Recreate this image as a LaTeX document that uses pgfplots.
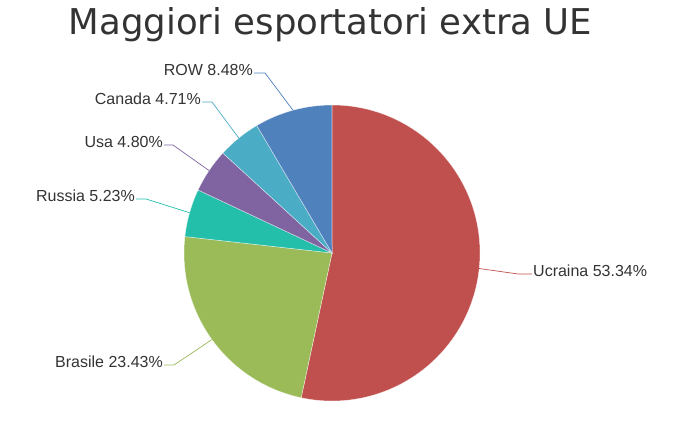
\documentclass[border=0pt]{standalone}
\usepackage{pgfplots}
\pgfplotsset{compat=1.18}
\usepackage{pgfplotstable}
\usepackage{fontspec}
\setmainfont{Liberation Sans}
\newfontfamily\titlefont{DejaVu Sans}
\definecolor{cUcr}{HTML}{C0504D}
\definecolor{cBra}{HTML}{9BBB59}
\definecolor{cRus}{HTML}{23BFAA}
\definecolor{cUsa}{HTML}{8064A2}
\definecolor{cCan}{HTML}{4BACC6}
\definecolor{cROW}{HTML}{4F81BD}
\definecolor{txt}{HTML}{333333}
\pgfplotstableread{
name pct col ex ey hx
Ucraina 53.34 cUcr 518 274 532
Brasile 23.43 cBra 174 365 164
Russia 5.23 cRus 146 199 136
Usa 4.80 cUsa 173 145 164
Canada 4.71 cCan 212 102 202
ROW 8.48 cROW 265 73 254
}\piedata
\begin{document}
\begin{tikzpicture}
\begin{axis}[hide axis, scale only axis, width=692bp, height=434bp,
  xmin=0, xmax=692, ymin=0, ymax=434, y dir=reverse, clip=false]
\gdef\cum{0}
\pgfplotsforeachungrouped \i in {0,...,5}{%
  \pgfplotstablegetelem{\i}{pct}\of\piedata \let\slicep\pgfplotsretval
  \pgfplotstablegetelem{\i}{col}\of\piedata \let\slicecol\pgfplotsretval
  \pgfmathsetmacro\sa{90-3.6*\cum}%
  \pgfmathsetmacro\sb{90-3.6*(\cum+\slicep)}%
  \edef\tmp{\noexpand\fill[\slicecol, draw=white, draw opacity=0.6, line width=0.5bp] (axis cs:332,253) -- ([shift={(\sa:148bp)}]axis cs:332,253) arc[start angle=\sa, end angle=\sb, radius=148bp] -- cycle;}%
  \tmp
  \pgfmathsetmacro\newcum{\cum+\slicep}\global\let\cum\newcum
}
\gdef\cum{0}
\pgfplotsforeachungrouped \i in {0,...,5}{%
  \pgfplotstablegetelem{\i}{name}\of\piedata \let\slicename\pgfplotsretval
  \pgfplotstablegetelem{\i}{pct}\of\piedata \let\slicep\pgfplotsretval
  \pgfplotstablegetelem{\i}{col}\of\piedata \let\slicecol\pgfplotsretval
  \pgfplotstablegetelem{\i}{ex}\of\piedata \let\ex\pgfplotsretval
  \pgfplotstablegetelem{\i}{ey}\of\piedata \let\ey\pgfplotsretval
  \pgfplotstablegetelem{\i}{hx}\of\piedata \let\hx\pgfplotsretval
  \pgfmathsetmacro\sm{90-3.6*(\cum+\slicep/2)}%
  \pgfmathsetmacro\px{332+148*cos(\sm)}%
  \pgfmathsetmacro\py{253-148*sin(\sm)}%
  \pgfmathsetmacro\ty{\ey+2.5}%
  \ifdim\hx pt>\ex pt
    \pgfmathsetmacro\tx{\hx+1}\def\anc{base west}%
  \else
    \pgfmathsetmacro\tx{\hx-1}\def\anc{base east}%
  \fi
  \edef\tmp{\noexpand\addplot[\slicecol, line width=0.7bp, forget plot] coordinates {(\px,\py) (\ex,\ey) (\hx,\ey)};
    \noexpand\node[anchor=\anc, inner sep=0pt, text=txt, font=\noexpand\fontsize{16bp}{19bp}\noexpand\selectfont] at (axis cs:\tx,\ty) {\slicename\space\slicep\noexpand\%};}%
  \tmp
  \pgfmathsetmacro\newcum{\cum+\slicep}\global\let\cum\newcum
}
\node[font=\titlefont\fontsize{35.5bp}{42bp}\selectfont, text=txt, anchor=base, inner sep=0pt] at (axis cs:330.5,35) {Maggiori esportatori extra UE};
\end{axis}
\useasboundingbox (0,0) rectangle (692bp,434bp);
\end{tikzpicture}
\end{document}
